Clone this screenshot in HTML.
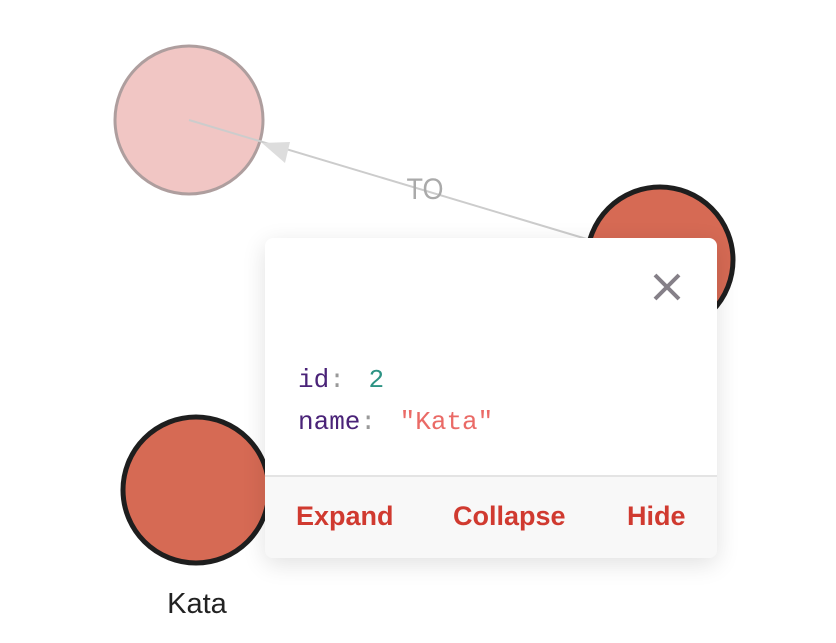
<!DOCTYPE html>
<html><head><style>
body{margin:0;width:836px;height:643px;background:#fff;overflow:hidden;position:relative;font-family:"Liberation Sans",sans-serif}
svg{position:absolute;left:0;top:0}
.card{position:absolute;left:265px;top:238px;width:452px;height:320px;background:#fff;border-radius:8px;box-shadow:0 6px 24px rgba(0,0,0,0.12);overflow:hidden}
.foot{position:absolute;left:0;top:237px;width:100%;height:83px;background:#f8f8f8;border-top:2px solid #e4e4e4}
.mono{position:absolute;left:33px;font-family:"Liberation Mono",monospace;font-size:26px}
.c{color:#999;margin-right:8px}
.btn{position:absolute;top:263px;font-weight:bold;font-size:27px;color:#d03a30}
</style></head><body>
<svg width="836" height="643">
<circle cx="189" cy="120" r="74" fill="#f1c3c1" stroke="#a99" stroke-width="3" opacity="0.95"/>
<line x1="189" y1="120" x2="600" y2="243" stroke="#ccc" stroke-width="2"/>
<polygon points="262,143 290,142 285,163" fill="#ddd"/>
<text x="425" y="199" font-size="30" fill="#aaa" text-anchor="middle" font-family="Liberation Sans" transform="translate(425 0) scale(0.9 1) translate(-425 0)">TO</text>
<circle cx="660" cy="260" r="73" fill="#d66a54" stroke="#1e1e1e" stroke-width="5"/>
<circle cx="196" cy="490" r="73" fill="#d66a54" stroke="#1e1e1e" stroke-width="5"/>
<text x="197" y="613" font-size="29" fill="#222" text-anchor="middle" font-family="Liberation Sans">Kata</text>
</svg>
<div class="card">
<svg width="452" height="100"><path d="M390 37 L414 61 M414 37 L390 61" stroke="#858088" stroke-width="4"/></svg>
<div class="mono" style="top:127px"><span style="color:#4a2378">id</span><span class="c">:</span> <span style="color:#2d9384">2</span></div>
<div class="mono" style="top:169px"><span style="color:#4a2378">name</span><span class="c">:</span> <span style="color:#ea6a66">"Kata"</span></div>
<div class="foot"></div>
<div class="btn" style="left:31px">Expand</div>
<div class="btn" style="left:188px">Collapse</div>
<div class="btn" style="left:362px">Hide</div>
</div>
</body></html>
